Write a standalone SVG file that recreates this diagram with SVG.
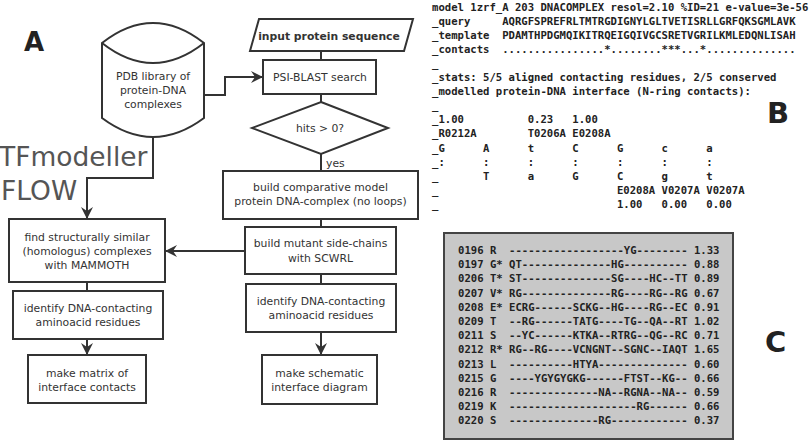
<svg xmlns="http://www.w3.org/2000/svg" width="810" height="441" viewBox="0 0 810 441">
<defs>
<style>
.box{fill:#fff;stroke:#333;stroke-width:2}
.lbl{font-family:"DejaVu Sans","Liberation Sans",sans-serif;font-size:10.8px;fill:#333;text-anchor:middle}
.bold{font-weight:bold}
.conn{fill:none;stroke:#333;stroke-width:2}
.mono{font-family:"DejaVu Sans Mono","Liberation Mono",monospace;font-weight:bold;font-size:10.6px;fill:#222;white-space:pre}
.panel{font-family:"DejaVu Sans","Liberation Sans",sans-serif;font-weight:bold;fill:#222}
.big{font-family:"DejaVu Sans","Liberation Sans",sans-serif;font-size:26.5px;fill:#555}
</style>
<marker id="arr" viewBox="0 0 12 12" refX="11" refY="6" markerWidth="12" markerHeight="12" markerUnits="userSpaceOnUse" orient="auto">
<path d="M0,0 L12,6 L0,12 L4,6 z" fill="#333"/>
</marker>
</defs>
<rect width="810" height="441" fill="#fff"/>

<text class="panel" x="24" y="51" font-size="26">A</text>
<text class="big" x="-1" y="166">TFmodeller</text>
<text class="big" x="1" y="200">FLOW</text>

<g id="connectors">
<path class="conn" d="M204,95 H225 V77 H262" marker-end="url(#arr)"/>
<path class="conn" d="M321,51 V60"/>
<path class="conn" d="M321,94 V102"/>
<path class="conn" d="M321,154 V171"/>
<path class="conn" d="M321,219 V227"/>
<path class="conn" d="M321,274 V284"/>
<path class="conn" d="M321,332 V354" marker-end="url(#arr)"/>
<path class="conn" d="M245,251 H166" marker-end="url(#arr)"/>
<path class="conn" d="M153,137 V178 H87 V218" marker-end="url(#arr)"/>
<path class="conn" d="M87,282 V291"/>
<path class="conn" d="M87,339 V354" marker-end="url(#arr)"/>
<text class="lbl" x="326" y="167" style="text-anchor:start">yes</text>
</g>

<g id="pdb">
<path class="box" d="M102,43 Q153,3 204,43 L204,118 Q153,156 102,118 Z"/>
<path class="conn" d="M102,43 Q153,83 204,43"/>
<text class="lbl" x="153" y="80">PDB library of</text>
<text class="lbl" x="153" y="94">protein-DNA</text>
<text class="lbl" x="153" y="108">complexes</text>
</g>

<g id="input">
<path class="box" d="M259,19 L413,19 L404,51 L250,51 Z"/>
<text class="lbl bold" x="329" y="40">input protein sequence</text>
</g>

<g id="psiblast">
<rect class="box" x="263" y="60" width="113" height="34"/>
<text class="lbl" x="320" y="81">PSI-BLAST search</text>
</g>

<g id="hits">
<path class="box" d="M321,102 L388,128 L321,154 L252,128 Z"/>
<text class="lbl" x="320" y="132">hits &gt; 0?</text>
</g>

<g id="comparative">
<rect class="box" x="223" y="171" width="195" height="48"/>
<text class="lbl" x="320.5" y="191">build comparative model</text>
<text class="lbl" x="320.5" y="205">protein DNA-complex (no loops)</text>
</g>

<g id="mutant">
<rect class="box" x="245" y="227" width="151" height="47"/>
<text class="lbl" x="320.5" y="247">build mutant side-chains</text>
<text class="lbl" x="320.5" y="262">with SCWRL</text>
</g>

<g id="identify-right">
<rect class="box" x="246" y="284" width="150" height="48"/>
<text class="lbl" x="321" y="305">identify DNA-contacting</text>
<text class="lbl" x="321" y="319">aminoacid residues</text>
</g>

<g id="schematic">
<rect class="box" x="262" y="355" width="115" height="49"/>
<text class="lbl" x="319.5" y="377">make schematic</text>
<text class="lbl" x="319.5" y="391">interface diagram</text>
</g>

<g id="find">
<rect class="box" x="9" y="219" width="156" height="63"/>
<text class="lbl" x="87" y="241">find structurally similar</text>
<text class="lbl" x="87" y="255">(homologus) complexes</text>
<text class="lbl" x="87" y="269">with MAMMOTH</text>
</g>

<g id="identify-left">
<rect class="box" x="13" y="291" width="150" height="48"/>
<text class="lbl" x="88" y="312">identify DNA-contacting</text>
<text class="lbl" x="88" y="326">aminoacid residues</text>
</g>

<g id="matrix">
<rect class="box" x="28" y="355" width="118" height="48"/>
<text class="lbl" x="87" y="377">make matrix of</text>
<text class="lbl" x="87" y="391">interface contacts</text>
</g>

<g id="panel-b" xml:space="preserve">
<text class="mono" x="432" y="10.6">model 1zrf_A 203 DNACOMPLEX resol=2.10 %ID=21 e-value=3e-56</text>
<text class="mono" x="432" y="24.7">_query     AQRGFSPREFRLTMTRGDIGNYLGLTVETISRLLGRFQKSGMLAVK</text>
<text class="mono" x="432" y="38.8">_template  PDAMTHPDGMQIKITRQEIGQIVGCSRETVGRILKMLEDQNLISAH</text>
<text class="mono" x="432" y="52.9">_contacts  ................*........***...*..............</text>
<text class="mono" x="432" y="67.0">_</text>
<text class="mono" x="432" y="81.1">_stats: 5/5 aligned contacting residues, 2/5 conserved</text>
<text class="mono" x="432" y="95.1">_modelled protein-DNA interface (N-ring contacts):</text>
<text class="mono" x="432" y="109.2">_</text>
<text class="mono" x="432" y="123.3">_1.00          0.23   1.00</text>
<text class="mono" x="432" y="137.4">_R0212A        T0206A E0208A</text>
<text class="mono" x="432" y="151.5">_G      A      t      C      G      c      a</text>
<text class="mono" x="432" y="165.6">_:      :      :      :      :      :      :</text>
<text class="mono" x="432" y="179.7">_       T      a      G      C      g      t</text>
<text class="mono" x="432" y="193.8">_                            E0208A V0207A V0207A</text>
<text class="mono" x="432" y="207.9">_                            1.00   0.00   0.00</text>
</g>
<text class="panel" x="767" y="123" font-size="29">B</text>

<g id="panel-c" xml:space="preserve">
<rect x="444" y="233" width="289" height="206" fill="#c8c8c8" stroke="#444" stroke-width="2"/>
<text class="mono" x="458" y="253.9">0196 R  ------------------YG-------- 1.33</text>
<text class="mono" x="458" y="268.1">0197 G* QT--------------HG---------- 0.88</text>
<text class="mono" x="458" y="282.3">0206 T* ST--------------SG----HC--TT 0.89</text>
<text class="mono" x="458" y="296.5">0207 V* RG--------------RG----RG--RG 0.67</text>
<text class="mono" x="458" y="310.7">0208 E* ECRG------SCKG--HG----RG--EC 0.91</text>
<text class="mono" x="458" y="324.9">0209 T  --RG------TATG----TG--QA--RT 1.02</text>
<text class="mono" x="458" y="339.1">0211 S  --YC------KTKA--RTRG--QG--RC 0.71</text>
<text class="mono" x="458" y="353.3">0212 R* RG--RG----VCNGNT--SGNC--IAQT 1.65</text>
<text class="mono" x="458" y="367.5">0213 L  ----------HTYA-------------- 0.60</text>
<text class="mono" x="458" y="381.7">0215 G  ----YGYGYGKG------FTST--KG-- 0.66</text>
<text class="mono" x="458" y="395.9">0216 R  --------------NA--RGNA--NA-- 0.59</text>
<text class="mono" x="458" y="410.1">0219 K  --------------------RG------ 0.66</text>
<text class="mono" x="458" y="424.3">0220 S  --------------RG------------ 0.37</text>
</g>
<text class="panel" x="765" y="352" font-size="29">C</text>
</svg>
